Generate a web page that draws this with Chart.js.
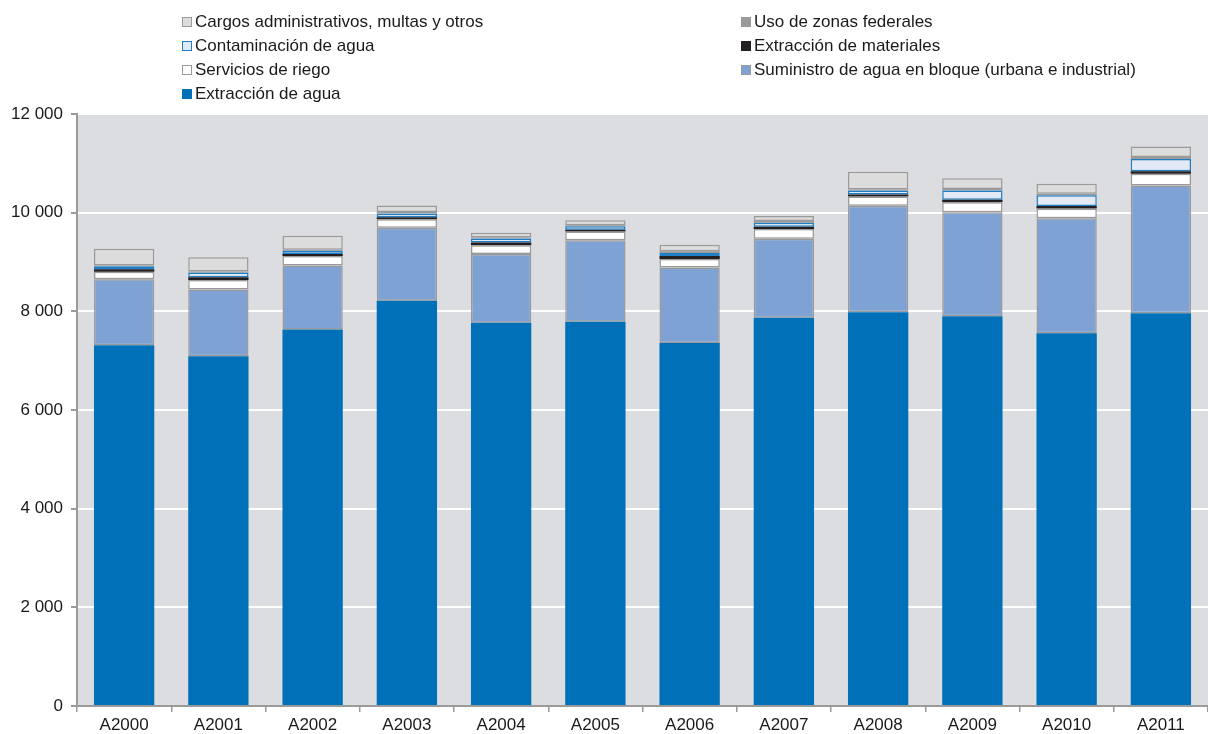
<!DOCTYPE html>
<html>
<head>
<meta charset="utf-8">
<script src="https://cdn.jsdelivr.net/npm/chart.js@4"></script>
<style>
  html, body { margin: 0; padding: 0; background: #fff; }
  #wrap { position: relative; width: 1208px; height: 734px; }
  #legend { position: absolute; left: 0; top: 0; width: 1208px; height: 110px;
            font-family: "Liberation Sans", Arial, sans-serif; font-size: 17px; color: #1a1a1a; }
  .leg-item { position: absolute; white-space: nowrap; line-height: 18px; }
  .leg-box { display: inline-block; width: 8px; height: 8px; margin-right: 3px; vertical-align: 0px; }
</style>
</head>
<body>
<div id="wrap">
  <canvas id="chart" width="1208" height="734"></canvas>
  <div id="legend"></div>
</div>
<script>
// categorías (años)
const years = ['A2000', 'A2001', 'A2002', 'A2003', 'A2004', 'A2005', 'A2006', 'A2007', 'A2008', 'A2009', 'A2010', 'A2011'];

// valores por concepto (millones de pesos)
const extraccionAgua = [7310, 7090, 7630, 8215, 7770, 7790, 7360, 7870, 7980, 7900, 7555, 7960];
const suministroBloque = [1340, 1355, 1300, 1480, 1390, 1650, 1530, 1600, 2160, 2110, 2330, 2590];
const serviciosRiego = [150, 190, 190, 170, 180, 180, 170, 200, 190, 200, 200, 240];
const extraccionMateriales = [55, 55, 40, 40, 55, 35, 60, 45, 40, 50, 50, 50];
const contaminacionAgua = [60, 95, 70, 80, 80, 70, 60, 80, 80, 190, 220, 250];
const usoZonasFederales = [15, 20, 20, 30, 20, 20, 40, 35, 20, 30, 30, 40];
const cargosAdministrativos = [340, 290, 280, 130, 100, 100, 130, 100, 360, 220, 200, 210];

const yTicks = [0, 2000, 4000, 6000, 8000, 10000, 12000];

// orden de apilado: de abajo hacia arriba
const datasets = [
  { label: 'Extracción de agua', data: extraccionAgua, backgroundColor: '#0070b8', borderColor: '#0070b8', borderWidth: 0 },
  { label: 'Suministro de agua en bloque (urbana e industrial)', data: suministroBloque, backgroundColor: '#7ea2d4', borderColor: '#9a9a9a', borderWidth: 1.5 },
  { label: 'Servicios de riego', data: serviciosRiego, backgroundColor: '#ffffff', borderColor: '#9a9a9a', borderWidth: 1.5 },
  { label: 'Extracción de materiales', data: extraccionMateriales, backgroundColor: '#231f20', borderColor: '#231f20', borderWidth: 0 },
  { label: 'Contaminación de agua', data: contaminacionAgua, backgroundColor: '#e4eaf5', borderColor: '#1f7fc6', borderWidth: 1.5 },
  { label: 'Uso de zonas federales', data: usoZonasFederales, backgroundColor: '#9a9a9a', borderColor: '#9a9a9a', borderWidth: 0 },
  { label: 'Cargos administrativos, multas y otros', data: cargosAdministrativos, backgroundColor: '#dcdcdc', borderColor: '#9a9a9a', borderWidth: 1.5 }
];

// leyenda en dos columnas, como en el original
const legendLayout = [
  ['Cargos administrativos, multas y otros', 182, 13],
  ['Contaminación de agua', 182, 37],
  ['Servicios de riego', 182, 61],
  ['Extracción de agua', 182, 85],
  ['Uso de zonas federales', 741, 13],
  ['Extracción de materiales', 741, 37],
  ['Suministro de agua en bloque (urbana e industrial)', 741, 61]
];
const legendDiv = document.getElementById('legend');
legendLayout.forEach(([name, x, y]) => {
  const ds = datasets.find(d => d.label === name);
  const item = document.createElement('div');
  item.className = 'leg-item';
  item.style.left = x + 'px';
  item.style.top = y + 'px';
  const bw = ds.borderWidth > 0 ? 1 : 0;
  item.innerHTML = `<span class="leg-box" style="background:${ds.backgroundColor};border:${bw}px solid ${ds.borderColor};width:${10 - 2 * bw}px;height:${10 - 2 * bw}px"></span>${name}`;
  legendDiv.appendChild(item);
});

// fondo gris del área de trazado
const plotBg = {
  id: 'plotBg',
  beforeDraw(chart) {
    const { ctx, chartArea: a } = chart;
    ctx.save();
    ctx.fillStyle = '#dcdde0';
    ctx.fillRect(a.left, a.top, a.right - a.left, a.bottom - a.top);
    ctx.restore();
  }
};

const fmt = v => v.toLocaleString('en-US').replace(/,/g, ' ');

new Chart(document.getElementById('chart'), {
  type: 'bar',
  data: { labels: years, datasets },
  plugins: [plotBg],
  options: {
    responsive: false,
    animation: false,
    layout: { padding: { top: 114, right: 0, left: 0, bottom: 0 } },
    datasets: { bar: { categoryPercentage: 0.64, barPercentage: 1.0, borderSkipped: false } },
    plugins: { legend: { display: false }, tooltip: { enabled: false } },
    scales: {
      x: {
        stacked: true,
        border: { color: '#9a9a9a', width: 2 },
        grid: { drawOnChartArea: false, tickColor: '#9a9a9a', tickLength: 6, lineWidth: 1.5, offset: true },
        ticks: { color: '#1a1a1a', font: { family: 'Liberation Sans', size: 17 }, padding: 3, maxRotation: 0 },
        afterFit(scale) { scale.height = 28; }
      },
      y: {
        stacked: true,
        min: 0,
        max: 12000,
        afterBuildTicks(scale) { scale.ticks = yTicks.map(v => ({ value: v })); },
        border: { color: '#9a9a9a', width: 2 },
        grid: { color: '#ffffff', lineWidth: 2, tickColor: '#9a9a9a', tickLength: 6 },
        ticks: { color: '#1a1a1a', font: { family: 'Liberation Sans', size: 17 }, padding: 8, callback: v => fmt(v) },
        afterFit(scale) { scale.width = 77; }
      }
    }
  }
});
</script>
</body>
</html>
